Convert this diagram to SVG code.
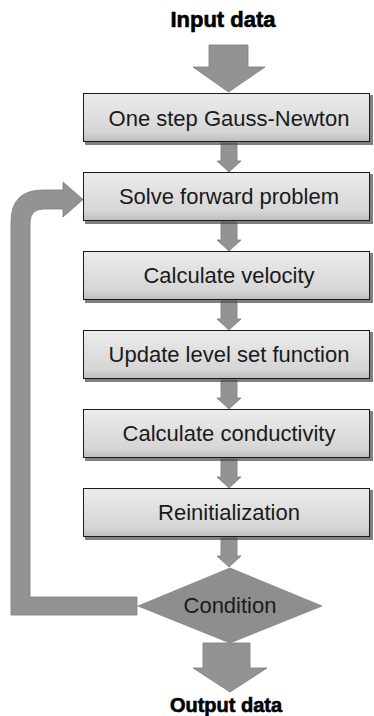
<svg xmlns="http://www.w3.org/2000/svg" width="374" height="716" viewBox="0 0 374 716">
<defs>
<linearGradient id="boxfill" x1="0" y1="0" x2="0" y2="1">
<stop offset="0" stop-color="#ececec"/>
<stop offset="0.8" stop-color="#d6d6d6"/>
<stop offset="1" stop-color="#bdbdbd"/>
</linearGradient>
</defs>
<style>
.box{fill:url(#boxfill);stroke:#1a1a1a;stroke-width:1}
.shadow{fill:#4a4a4a;opacity:0.7}
.arrow{fill:#939393;stroke:#7c7c7c;stroke-width:0.8}
.lbl{font-family:"Liberation Sans",Arial,sans-serif;font-size:22px;fill:#1a1a1a;text-anchor:middle}
.io{font-family:"Liberation Sans",Arial,sans-serif;font-weight:bold;fill:#000;text-anchor:middle;stroke:#000;stroke-width:0.6}
</style>
<rect width="374" height="716" fill="#ffffff"/>
<g id="connectors">
<path class="arrow" d="M209 45 L248 45 L248 67 L265 67 L228.5 92 L193 67 L209 67 Z"/>
<path class="arrow" d="M221 143 L237 143 L237 161 L241 161 L229 172 L217 161 L221 161 Z"/>
<path class="arrow" d="M221 222 L237 222 L237 240 L241 240 L229 251 L217 240 L221 240 Z"/>
<path class="arrow" d="M221 301 L237 301 L237 319 L241 319 L229 330 L217 319 L221 319 Z"/>
<path class="arrow" d="M221 380 L237 380 L237 398 L241 398 L229 409 L217 398 L221 398 Z"/>
<path class="arrow" d="M221 459 L237 459 L237 477 L241 477 L229 488 L217 477 L221 477 Z"/>
<path class="arrow" d="M221 538 L237 538 L237 556 L241 556 L229 567 L217 556 L221 556 Z"/>
<path class="arrow" d="M203 643 L250 643 L250 668 L267 668 L230 692 L193 668 L203 668 Z"/>
<path class="arrow" d="M11 615 L11 222 Q11 190 43 190 L63 190 L63 182 L83 199.5 L63 217 L63 209 L44 209 Q30 209 30 223 L30 597 L137 597 L137 615 Z"/>
</g>
<g id="input">
<text class="io" x="223" y="27" font-size="22">Input data</text>
</g>
<g id="box1">
<rect class="shadow" x="85" y="95" width="288" height="50"/>
<rect class="box" x="83.5" y="93.5" width="286" height="48"/>
<text class="lbl" x="229" y="126">One step Gauss-Newton</text>
</g>
<g id="box2">
<rect class="shadow" x="85" y="174" width="288" height="50"/>
<rect class="box" x="83.5" y="172.5" width="286" height="48"/>
<text class="lbl" x="229" y="204">Solve forward problem</text>
</g>
<g id="box3">
<rect class="shadow" x="85" y="253" width="288" height="50"/>
<rect class="box" x="83.5" y="251.5" width="286" height="48"/>
<text class="lbl" x="229" y="283">Calculate velocity</text>
</g>
<g id="box4">
<rect class="shadow" x="85" y="332" width="288" height="50"/>
<rect class="box" x="83.5" y="330.5" width="286" height="48"/>
<text class="lbl" x="229" y="362">Update level set function</text>
</g>
<g id="box5">
<rect class="shadow" x="85" y="411" width="288" height="50"/>
<rect class="box" x="83.5" y="409.5" width="286" height="48"/>
<text class="lbl" x="229" y="441">Calculate conductivity</text>
</g>
<g id="box6">
<rect class="shadow" x="85" y="490" width="288" height="50"/>
<rect class="box" x="83.5" y="488.5" width="286" height="48"/>
<text class="lbl" x="229" y="520">Reinitialization</text>
</g>
<g id="condition">
<polygon points="230,568 322,606 230,643 138,606" fill="#8e8e8e" stroke="#858585" stroke-width="0.8"/>
<text class="lbl" x="230" y="613">Condition</text>
</g>
<g id="output">
<text class="io" x="226" y="712" font-size="20">Output data</text>
</g>
</svg>
